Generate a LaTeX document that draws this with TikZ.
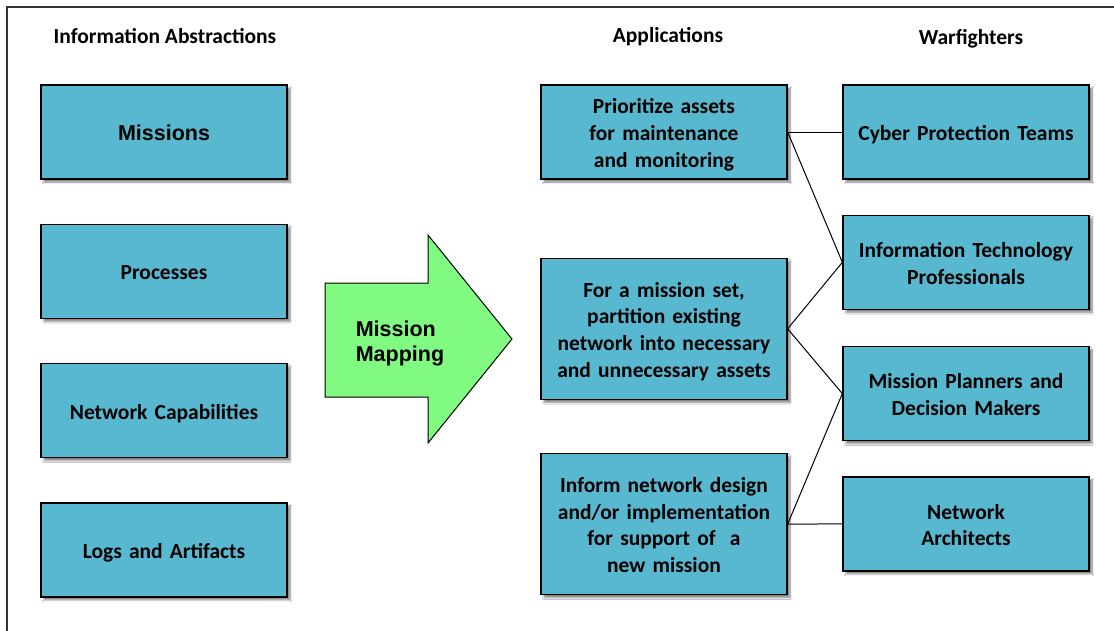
\documentclass[tikz,border=0pt]{standalone}
\usepackage{fontspec}
\setmainfont{Carlito}
\newfontfamily\arialfont{Liberation Sans}
\usepackage{tikz}
\usetikzlibrary{shapes,arrows,positioning,shadows.blur}

\definecolor{boxblue}{RGB}{87,184,207}
\definecolor{mapgreen}{RGB}{128,250,128}

\tikzset{
  box/.style={draw=black, line width=1.3pt, fill=boxblue,
    minimum width=246pt, minimum height=94pt, text width=236pt,
    align=center, inner sep=0pt,
    font=\bfseries\fontsize{21.5}{26.7}\selectfont,
    execute at begin node={\rule{0pt}{22pt}},
    execute at end node={\rule[-5pt]{0pt}{5pt}},
    blur shadow={shadow xshift=3pt, shadow yshift=-3pt,
      shadow opacity=50, shadow blur steps=6}},
  tallbox/.style={box, minimum height=141pt},
  heading/.style={font=\bfseries\fontsize{21.5}{26}\selectfont},
  link/.style={draw=black, line width=1pt}
}

\begin{document}
\begin{tikzpicture}[x=1pt,y=-1pt]
  \useasboundingbox (0,0) rectangle (1114,630);
  \fill[white] (0,0) rectangle (1114,630);
  % frame
  \draw[line width=1.6pt, black!80] (7,640) |- (1124,7);

  % headings
  \node[heading] (absTitle) at (165,36) {Information Abstractions};
  \node[heading] (appTitle) at (668,37) {Applications};
  \node[heading] (warTitle) at (971,39) {Warfighters};

  % information abstractions
  \node[box, font=\arialfont\bfseries\fontsize{21.5}{26}\selectfont]
    (missions) at (164,132) {Missions};
  \node[box, below=44pt of missions] (processes) {Processes};
  \node[box, below=44pt of processes] (netcap) {Network Capabilities};
  \node[box, below=44pt of netcap] (logs) {Logs and Artifacts};

  % mission mapping arrow
  \draw[line width=1pt, fill=mapgreen]
    (325,283) -- (428,283) -- (428,235) -- (512,339)
    -- (428,443) -- (428,397) -- (325,397) -- cycle;
  \node[align=left, font=\arialfont\bfseries\fontsize{21.5}{25}\selectfont]
    (mapping) at (400,343) {Mission\\Mapping};

  % applications
  \node[box] (prio) at (664,132)
    {Prioritize assets\\for maintenance\\and monitoring};
  \node[tallbox, below=78pt of prio] (partition)
    {For a mission set,\\partition existing\\network into necessary\\and unnecessary assets};
  \node[tallbox, below=53pt of partition] (inform)
    {Inform network design\\and/or implementation\\for support of\ \ a\\new mission};

  % warfighters
  \node[box] (cyber) at (966,132) {Cyber Protection Teams};
  \node[box, below=35pt of cyber] (itpro)
    {Information Technology\\Professionals};
  \node[box, below=36pt of itpro] (planners)
    {Mission Planners and\\Decision Makers};
  \node[box, below=35pt of planners] (architects)
    {Network\\Architects};

  % links
  \draw[link] (prio.east) -- (cyber.west);
  \draw[link] (prio.east) -- (itpro.west);
  \draw[link] (partition.east) -- (itpro.west);
  \draw[link] (partition.east) -- (planners.west);
  \draw[link] (inform.east) -- (planners.west);
  \draw[link] (inform.east) -- (architects.west);
\end{tikzpicture}
\end{document}
